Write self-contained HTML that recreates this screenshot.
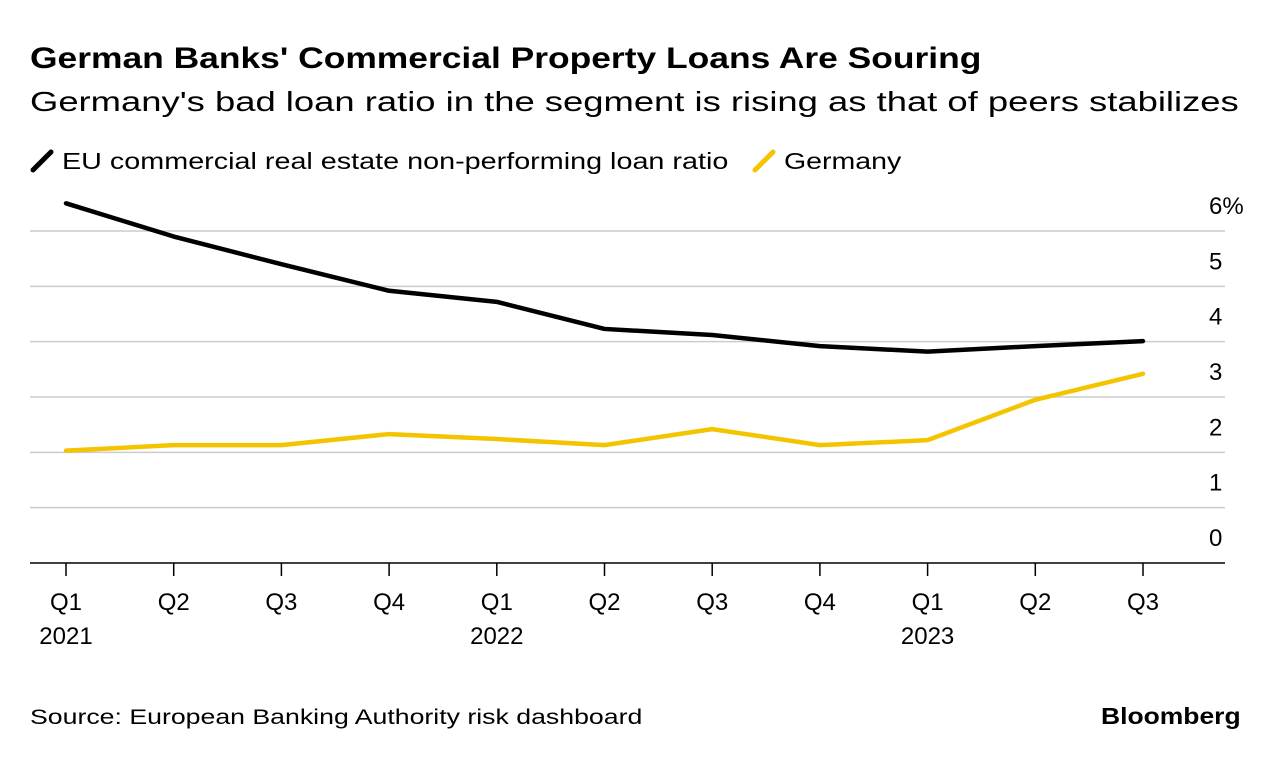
<!DOCTYPE html>
<html><head><meta charset="utf-8"><style>
body{margin:0;width:1279px;height:760px;background:#fff;font-family:"Liberation Sans",sans-serif;overflow:hidden;position:relative}
.t{position:absolute;white-space:nowrap;color:#000;transform-origin:left top}
</style></head><body>
<div class="t" style="left:30px;top:42px;font-size:30px;font-weight:bold;transform:scaleX(1.18)">German Banks' Commercial Property Loans Are Souring</div>
<div class="t" style="left:30px;top:86px;font-size:28px;transform:scaleX(1.3)">Germany's bad loan ratio in the segment is rising as that of peers stabilizes</div>
<div class="t" style="left:30px;top:148px;font-size:23px"><svg width="26" height="24" style="vertical-align:-4px"><line x1="3" y1="21" x2="21" y2="3" stroke="#000" stroke-width="5" stroke-linecap="round"/></svg> <span style="display:inline-block;transform:scaleX(1.25);transform-origin:left center">EU commercial real estate non-performing loan ratio</span></div>
<div class="t" style="left:752px;top:148px;font-size:23px"><svg width="26" height="24" style="vertical-align:-4px"><line x1="3" y1="21" x2="21" y2="3" stroke="#f5c400" stroke-width="5" stroke-linecap="round"/></svg> <span style="display:inline-block;transform:scaleX(1.24);transform-origin:left center">Germany</span></div>
<svg id="c" width="1279" height="760" style="position:absolute;left:0;top:0"></svg>
<div class="t" style="left:30px;top:706px;font-size:21px;transform:scaleX(1.27)">Source: European Banking Authority risk dashboard</div>
<div class="t" style="left:1101px;top:703px;font-size:23px;font-weight:bold;transform:scaleX(1.15)">Bloomberg</div>
<script>
const quarters=["Q1","Q2","Q3","Q4","Q1","Q2","Q3","Q4","Q1","Q2","Q3"];
const years=["2021","","","","2022","","","","2023","",""];
const euValues=[6.5,5.9,5.4,4.92,4.72,4.23,4.12,3.92,3.82,3.92,4.01];
const deValues=[2.03,2.13,2.13,2.33,2.24,2.13,2.42,2.13,2.22,2.95,3.42];
const yTicks=[0,1,2,3,4,5,6];
const NS="http://www.w3.org/2000/svg",svg=document.getElementById("c");
const x=i=>66+i*(1143-66)/(quarters.length-1);
const y=v=>563-v*(563-231)/6;
function mk(t,a){const e=document.createElementNS(NS,t);for(const k in a)e.setAttribute(k,a[k]);svg.appendChild(e);return e;}
yTicks.forEach(v=>{
 const g=mk("line",{x1:30,x2:1225,y1:y(v),y2:y(v),stroke:v===0?"#000":"#ccc","stroke-width":1.5});
 
 
 const t=mk("text",{x:1209,y:y(v)-17,"font-size":24,"text-anchor":"start","font-family":"Liberation Sans"});
 t.textContent=v===6?"6%":String(v);
 
 
});
quarters.forEach((q,i)=>{
 const l=mk("line",{x1:x(i),x2:x(i),y1:563,y2:576,stroke:"#000","stroke-width":1.5});
 
 
 const t=mk("text",{x:x(i),y:610,"font-size":24,"text-anchor":"middle","font-family":"Liberation Sans"});
 t.textContent=q;
 
 
 if(years[i]){const yt=mk("text",{x:x(i),y:644,"font-size":24,"text-anchor":"middle","font-family":"Liberation Sans"});
 yt.textContent=years[i];
 
 }
});
function line(vals,col,name){
 const p=mk("polyline",{points:vals.map((v,i)=>x(i)+","+y(v)).join(" "),fill:"none",stroke:col,"stroke-width":4.5,"stroke-linejoin":"round","stroke-linecap":"round"});
 
 
}
line(deValues,"#f5c400","germany-line");
line(euValues,"#000","eu-line");
</script>
</body></html>
